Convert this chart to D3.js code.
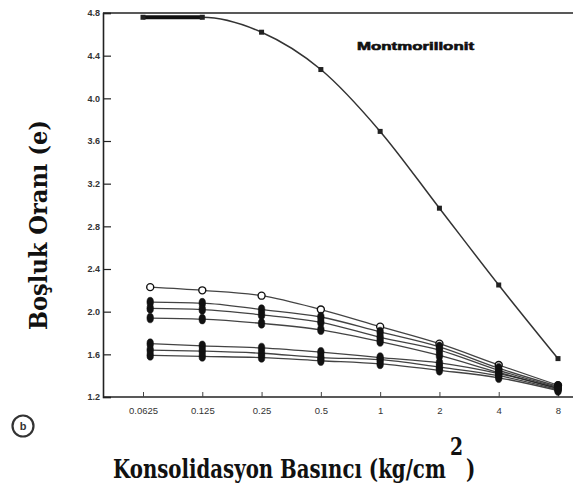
<!DOCTYPE html>
<html><head><meta charset="utf-8">
<script src="https://cdn.jsdelivr.net/npm/d3@7"></script>
<style>body{margin:0;background:#fff}svg{display:block}</style>
</head><body>
<svg id="c" width="573" height="487"></svg>
<script>
const pressures = [0.0625, 0.125, 0.25, 0.5, 1, 2, 4, 8];
const lowPressures = [0.068, 0.125, 0.25, 0.5, 1, 2, 4, 8];
const xTickLabels = ["0.0625", "0.125", "0.25", "0.5", "1", "2", "4", "8"];
const yTicks = [1.2, 1.6, 2.0, 2.4, 2.8, 3.2, 3.6, 4.0, 4.4, 4.8];
const montmorillonit = [4.76, 4.76, 4.62, 4.27, 3.69, 2.97, 2.25, 1.56];
const s1 = [2.23, 2.20, 2.15, 2.02, 1.86, 1.70, 1.50, 1.31];
const s2 = [2.09, 2.08, 2.02, 1.95, 1.81, 1.67, 1.47, 1.30];
const s3 = [2.03, 2.02, 1.97, 1.90, 1.76, 1.64, 1.45, 1.29];
const s4 = [1.94, 1.93, 1.89, 1.83, 1.72, 1.59, 1.43, 1.28];
const s5 = [1.70, 1.68, 1.66, 1.62, 1.57, 1.52, 1.42, 1.28];
const s6 = [1.64, 1.63, 1.61, 1.57, 1.55, 1.48, 1.40, 1.27];
const s7 = [1.59, 1.58, 1.57, 1.54, 1.51, 1.45, 1.38, 1.26];
const lowSeries = [s1, s2, s3, s4, s5, s6, s7];

const svg = d3.select("#c");
const x = d3.scaleLog().base(2).domain([0.0625, 8]).range([143, 558]);
const y = d3.scaleLinear().domain([1.2, 4.8]).range([397, 13]);
const ink = "#222";
const serif = "DejaVu Serif, serif";

// frame: top line, left axis, bottom axis
svg.append("line").attr("x1", 103).attr("x2", 573).attr("y1", y(4.8)).attr("y2", y(4.8))
  .attr("stroke", ink).attr("stroke-width", 1.6);

const yAxis = svg.append("g").attr("transform", "translate(103,0)")
  .call(d3.axisRight(y).tickValues(yTicks).tickSize(8).tickFormat(d3.format(".1f")));
yAxis.select(".domain").attr("stroke", ink).attr("stroke-width", 1.6);
yAxis.selectAll(".tick line").attr("stroke", ink).attr("stroke-width", 1.2);
yAxis.selectAll(".tick text").attr("x", -3).attr("text-anchor", "end")
  .attr("font-family", "Liberation Sans, Arial, sans-serif").attr("font-size", 9)
  .attr("font-weight", "bold").attr("fill", "#333");

svg.append("line").attr("x1", 103).attr("x2", 573).attr("y1", 397).attr("y2", 397)
  .attr("stroke", ink).attr("stroke-width", 1.6);
const xAxis = svg.append("g").attr("transform", "translate(0,397)")
  .call(d3.axisTop(x).tickValues(pressures).tickSize(5).tickFormat((d, i) => xTickLabels[i]));
xAxis.select(".domain").remove();
xAxis.selectAll(".tick line").attr("stroke", "#444").attr("stroke-width", 1);
xAxis.selectAll(".tick text").attr("y", 17).attr("dy", 0)
  .attr("font-family", "Liberation Sans, Arial, sans-serif").attr("font-size", 9.5)
  .attr("fill", "#333");

const line = d3.line().curve(d3.curveMonotoneX);

// lower series
lowSeries.forEach((s, k) => {
  const pts = s.map((v, i) => [x(lowPressures[i]), y(v)]);
  svg.append("path").attr("d", line(pts)).attr("fill", "none")
    .attr("stroke", ink).attr("stroke-width", 1.3).attr("opacity", 0.85);
  svg.selectAll(null).data(pts).enter().append("ellipse")
    .attr("cx", d => d[0]).attr("cy", d => d[1])
    .attr("rx", k === 0 ? 3.5 : 3.3).attr("ry", k === 0 ? 3.5 : 4.8)
    .attr("fill", k === 0 ? "#fff" : "#111")
    .attr("stroke", "#111").attr("stroke-width", k === 0 ? 1.4 : 0.5);
});

// montmorillonit
const mPts = montmorillonit.map((v, i) => [x(pressures[i]), y(v)]);
svg.append("path").attr("d", line(mPts)).attr("fill", "none")
  .attr("stroke", "#333").attr("stroke-width", 1.5);
svg.append("path").attr("d", d3.line()([mPts[0], mPts[1]])).attr("fill", "none")
  .attr("stroke", "#111").attr("stroke-width", 4);
svg.selectAll(null).data(mPts).enter().append("rect")
  .attr("x", d => d[0] - 2.5).attr("y", d => d[1] - 2.5)
  .attr("width", 5).attr("height", 5).attr("fill", "#222");

svg.append("text").attr("x", 357).attr("y", 50)
  .attr("font-family", "Liberation Sans, Arial, sans-serif").attr("font-size", 11)
  .attr("font-weight", "bold").attr("fill", "#111").attr("stroke", "#111").attr("stroke-width", 0.6)
  .attr("textLength", 117).attr("lengthAdjust", "spacingAndGlyphs").text("Montmorillonit");

// axis titles
svg.append("text").attr("transform", "translate(47,225) rotate(-90)")
  .attr("text-anchor", "middle").attr("font-family", serif)
  .attr("font-size", 25).attr("font-weight", "bold").attr("fill", "#111")
  .attr("textLength", 210).attr("lengthAdjust", "spacingAndGlyphs")
  .text("Boşluk Oranı (e)");

// x title: fit natural width to 335px, then stretch vertically
const gx = svg.append("g");
const mainT = gx.append("text").attr("x", 0).attr("y", 0)
  .attr("font-family", serif).attr("font-size", 20).attr("font-weight", "bold").attr("fill", "#111")
  .text("Konsolidasyon Basıncı (kg/cm");
const natLen = mainT.node().getComputedTextLength();
const fs = 20 * 333 / natLen;
mainT.attr("font-size", fs);
const sy = 18.5 / (0.73 * fs);
gx.attr("transform", `translate(113,478) scale(1,${sy})`);
gx.append("text").attr("x", 337).attr("y", -23 / sy)
  .attr("font-family", serif).attr("font-size", fs * 0.95).attr("font-weight", "bold").attr("fill", "#111")
  .text("2");
gx.append("text").attr("x", 353).attr("y", 0)
  .attr("font-family", serif).attr("font-size", fs).attr("font-weight", "bold").attr("fill", "#111")
  .text(")");

// panel marker (b)
svg.append("circle").attr("cx", 23).attr("cy", 426).attr("r", 10.5)
  .attr("fill", "none").attr("stroke", "#333").attr("stroke-width", 2.2);
svg.append("text").attr("x", 23).attr("y", 430).attr("text-anchor", "middle")
  .attr("font-family", "Liberation Sans, Arial, sans-serif").attr("font-size", 11)
  .attr("font-weight", "bold").attr("fill", "#333").text("b");
</script>
</body></html>
